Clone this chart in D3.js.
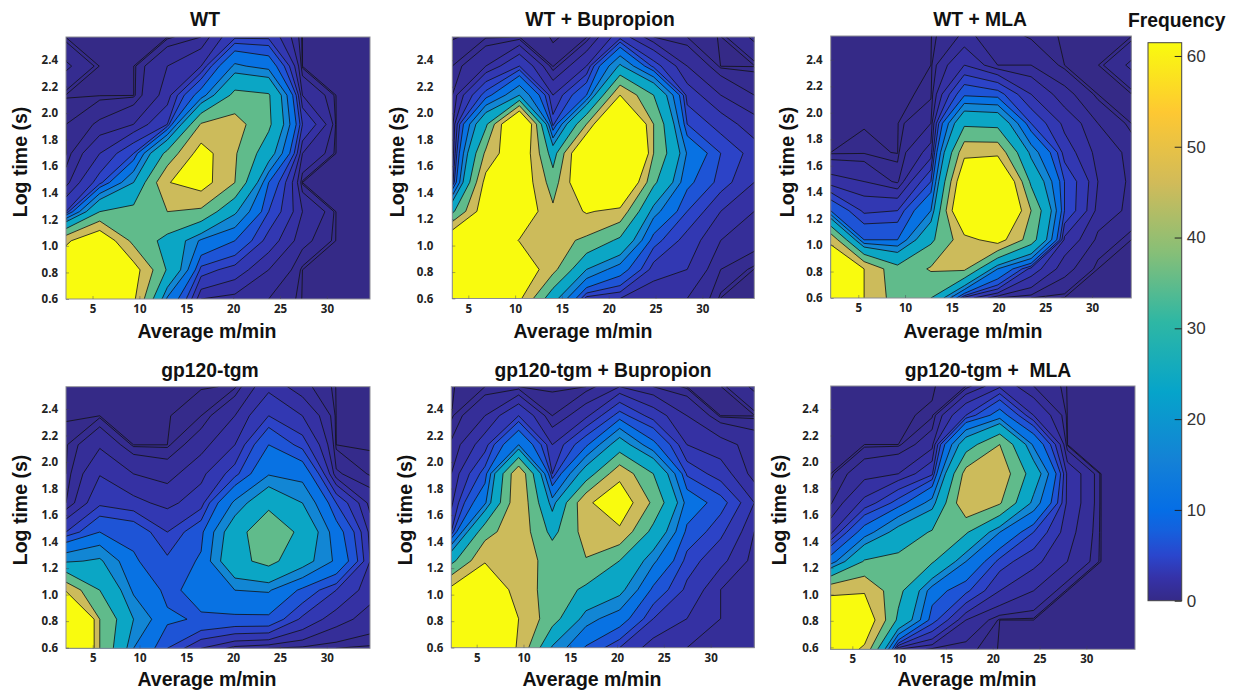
<!DOCTYPE html>
<html>
<head>
<meta charset="utf-8">
<script src="https://cdn.jsdelivr.net/npm/d3@7"></script>
<style>
  html, body { margin: 0; background: #fff; }
  svg { display: block; }
  text { font-family: "Liberation Sans", Arial, sans-serif; fill: #111; white-space: pre; }
  .title, .axis-label { font-weight: bold; }
  .title { font-size: 19.3px; }
  .axis-label { font-size: 19.5px; }
  .tick-axis text { font-family: "Open Sans", sans-serif; font-weight: bold; font-size: 11.5px; fill: #222; }
  .tick-axis .domain { display: none; }
  .tick-axis line { stroke: #445; stroke-opacity: 0.45; }
  .bar-axis text { font-size: 17px; fill: #333; }
  .bar-axis .domain { display: none; }
  .bar-axis line { stroke: #222; }
</style>
</head>
<body>
<svg id="chart" width="1238" height="691"></svg>
<script>
// Contour levels and the colour value each filled band takes on the colour bar
var levels = [0.01, 0.1, 0.5, 1.5, 3, 5, 7, 10, 15, 20, 30, 40, 50];
var bandValues = [0.3, 0.7, 1.3, 2.1, 3.2, 4.6, 6.5, 11, 16.5, 24, 35, 45.5, 61.4];
var baseValue = 0;

var xTickValues = [5, 10, 15, 20, 25, 30];
var yTickValues = [0.6, 0.8, 1.0, 1.2, 1.4, 1.6, 1.8, 2.0, 2.2, 2.4];
var barTickValues = [0, 10, 20, 30, 40, 50, 60];

var barValues = [0, 2.5, 5, 7.7, 10, 15.4, 23, 30.7, 38.4, 46, 53.8, 61.46];
var barColors = ["#352a87", "#3532a8", "#2a46cd", "#1560dd", "#056ee6", "#1481d6", "#06a4ca", "#2eb7a4", "#87bf77", "#d1bb59", "#fec832", "#f9fb0e"];

var titles = ["WT", "WT + Bupropion", "WT + MLA", "gp120-tgm", "gp120-tgm + Bupropion", "gp120-tgm +  MLA"];

// Frequency grids, 10 x 10, top row of the plot first
var gridWT = [
  [0, 0, 0, 0, 0.5, 4.5, 4.5, 0, 0, 0],
  [0.6, 0, 0, 1.5, 3, 16, 13, 0, 0, 0],
  [0, 0, 0, 2, 12, 33, 31, 1.5, 0, 0],
  [0.1, 0.6, 1.5, 5, 41, 44, 32, 5, 0, 0],
  [0.05, 3, 7, 33, 55, 41, 24, 1.5, 0, 0],
  [1, 6, 20, 49.5, 55, 40, 10, 0.01, 0, 0],
  [5, 30, 33, 40, 38, 21, 7, 1.5, 0, 0],
  [48, 61, 37, 27, 14, 10, 4, 0.7, 0, 0],
  [60, 62, 55, 29, 6, 4, 1.5, 0.01, 0, 0],
  [58, 62, 52, 14, 1.5, 1, 0.5, 0, 0, 0]
];
var gridWTBup = [
  [0, 0.05, 0.1, 0, 0.05, 4, 0.5, 0.1, 0, 0.6],
  [0.1, 1.5, 5, 0.05, 3, 21, 6, 1.5, 0, 0],
  [0.5, 8, 20, 3, 10, 50, 30, 4, 1.5, 0.5],
  [1, 28, 75, 6, 40, 85, 40, 7, 4, 2],
  [1.5, 42, 62, 25, 70, 105, 40, 14.5, 7, 4],
  [4, 54, 60, 35, 65, 72, 32, 11, 6, 3],
  [28, 58, 60, 42, 51, 47, 17, 7, 3, 1.5],
  [62, 62, 49.5, 44, 38, 28, 8, 4, 1.5, 0.8],
  [62, 62, 60, 43, 20, 12, 4, 3, 0.5, 0],
  [62, 62, 52, 23, 4, 3, 1.5, 1.5, 0, 0]
];
var gridWTMla = [
  [0, 0, 0, 0, 0.6, 0.3, 0.05, 0, 0, 0],
  [0, 0, 0, 0.01, 3, 0.5, 0.5, 0.01, 0, 0.6],
  [0, 0, 0, 0.02, 9, 8, 3, 0.7, 0.01, 0],
  [0, 0, 0, 0.5, 28, 27, 7, 2.5, 0.5, 0.01],
  [0.01, 0.05, 0, 2, 47, 47, 18, 4, 1, 0.3],
  [2, 1.5, 0.3, 7, 62, 72, 28, 7, 1.5, 0.3],
  [10, 4.5, 5, 15, 70, 75, 40, 7, 1, 0.3],
  [48, 10, 10, 28, 46, 55, 35, 2.5, 0.3, 0.01],
  [60, 50, 33, 41, 42, 15, 4, 0.7, 0.01, 0],
  [60, 50, 35, 30, 4, 0.5, 0.1, 0, 0, 0]
];
var gridTgm = [
  [0, 0, 0, 0, 0, 0.02, 2.5, 0.7, 0, 0],
  [0, 0.01, 0, 0, 0.1, 1.5, 5, 3, 0, 0],
  [0.05, 1.3, 0.01, 0.01, 1, 3, 10, 6, 0.01, 0],
  [0.1, 2.9, 1.5, 1, 2.5, 6, 14.5, 13, 0.6, 0.05],
  [0.5, 4.5, 3.5, 2.5, 4, 16, 27, 20, 7, 1],
  [5, 10, 9, 5, 9, 25, 39, 27, 12, 2.5],
  [19, 21, 10.5, 7.5, 10.5, 27, 33, 23, 14, 3],
  [48, 30, 14, 9, 11.5, 15, 15.5, 9, 5, 2],
  [100, 40, 20, 10.7, 9.5, 9, 9, 4.5, 2, 1],
  [100, 40, 15, 7, 3, 1, 0.5, 0.3, 0.1, 0.01]
];
var gridTgmBup = [
  [0, 0.1, 0.1, 0.01, 0.1, 1.5, 0.5, 0.01, 0, 0.6],
  [0.01, 1.5, 5, 0.5, 2.5, 8, 4, 1.5, 0.01, 0],
  [0.6, 4, 15, 3, 9, 24, 11, 3, 2, 1],
  [1.5, 8, 49, 5, 24, 47, 30, 6.5, 4, 0.9],
  [2.5, 14, 49, 17, 48, 58, 38, 13, 8, 3],
  [5, 36, 47, 27, 44, 48, 27, 9, 5.5, 1.5],
  [27, 49, 44, 37, 39.5, 30, 16, 6, 3.5, 1],
  [53, 62, 45, 36, 28, 22, 9, 4.5, 1.5, 0.7],
  [62, 62, 50, 34, 17, 12, 5, 3, 1.5, 1.1],
  [62, 62, 49, 19, 9.5, 5, 2, 1.5, 1.3, 1.2]
];
var gridTgmMla = [
  [0, 0, 0, 0, 0.1, 2.5, 0.5, 0, 0, 0],
  [0, 0, 0, 0.02, 5, 12, 3, 0, 0, 0],
  [0, 0.01, 0.01, 1, 25, 40, 14, 0.01, 0, 0],
  [0.01, 1, 1.5, 4.5, 44, 47, 25, 2.5, 0, 0],
  [0.4, 3.5, 8, 17, 49, 41, 18, 2.5, 0, 0],
  [2.5, 12, 23, 31, 31, 15, 7, 2, 0, 0],
  [12, 31, 33, 31, 15, 6, 3.5, 1.5, 0, 0],
  [48, 49, 33, 12, 7.5, 3, 1.5, 0.01, 0, 0],
  [60, 60, 28, 8, 1.5, 0.01, 0.01, 0, 0, 0],
  [60, 48, 1.5, 0.3, 0.15, 0, 0, 0, 0, 0]
];
var grids = [gridWT, gridWTBup, gridWTMla, gridTgm, gridTgmBup, gridTgmMla];

// Where each panel sits in the figure and what its axes span
var panels = [
  {l: 66, r: 370, t: 37, b: 299, xd: [2.17, 34.6], yd: [0.6, 2.573], pad: 8, titleX: 205, titleY: 19, xlabX: 207, xlabY: 331, ylabX: 20, ylabY: 162},
  {l: 452.3, r: 754.3, t: 37, b: 298.5, xd: [3.29, 35.55], yd: [0.6, 2.576], pad: 19, titleX: 600, titleY: 19, xlabX: 583, xlabY: 331, ylabX: 397, ylabY: 162},
  {l: 830.7, r: 1131.3, t: 36, b: 298, xd: [2.05, 34.2], yd: [0.6, 2.58], pad: 8, titleX: 980, titleY: 19, xlabX: 973, xlabY: 331, ylabX: 787, ylabY: 162},
  {l: 66, r: 370, t: 386.7, b: 648.3, xd: [2.15, 34.62], yd: [0.595, 2.568], pad: 8, titleX: 210, titleY: 370, xlabX: 207, xlabY: 679, ylabX: 20, ylabY: 510},
  {l: 451.3, r: 754.3, t: 386.7, b: 647.7, xd: [2.29, 34.66], yd: [0.6, 2.568], pad: 8, titleX: 603, titleY: 370, xlabX: 592, xlabY: 679, ylabX: 405, ylabY: 510},
  {l: 830.7, r: 1135, t: 386, b: 649.3, xd: [2.69, 35.2], yd: [0.585, 2.574], pad: 12, titleX: 988, titleY: 370, xlabX: 967, xlabY: 679, ylabX: 779, ylabY: 510}
];

var svg = d3.select("#chart");

var parula = d3.scaleLinear()
    .domain(barValues)
    .range(barColors)
    .interpolate(d3.interpolateRgb);

var contours = d3.contours().size([10, 10]);

panels.forEach(function(p, idx) {
    var x = d3.scaleLinear().domain(p.xd).range([p.l, p.r]);
    var y = d3.scaleLinear().domain(p.yd).range([p.b, p.t]);
    var xGrid = d3.scaleLinear().domain([0, 9]).range(p.xd);
    var yGrid = d3.scaleLinear().domain([0, 9]).range(p.yd);

    // d3.contours puts value i at i + 0.5
    var path = d3.geoPath(d3.geoTransform({
        point: function(px, py) {
            this.stream.point(x(xGrid(px - 0.5)), y(yGrid(py - 0.5)));
        }
    }));

    var values = grids[idx].slice().reverse().flat();

    var g = svg.append("g");
    g.append("clipPath").attr("id", "clip" + idx)
      .append("rect")
        .attr("x", p.l).attr("y", p.t)
        .attr("width", p.r - p.l).attr("height", p.b - p.t);

    var plot = g.append("g").attr("clip-path", "url(#clip" + idx + ")");
    plot.append("rect")
        .attr("x", p.l).attr("y", p.t)
        .attr("width", p.r - p.l).attr("height", p.b - p.t)
        .attr("fill", parula(baseValue));

    plot.selectAll("path")
        .data(levels.map(function(lv) { return contours.thresholds([lv])(values)[0]; }))
        .enter().append("path")
        .attr("d", path)
        .attr("fill", function(d, i) { return parula(bandValues[i]); })
        .attr("fill-rule", "evenodd")
        .attr("stroke", "#111")
        .attr("stroke-width", 0.8)
        .attr("stroke-linejoin", "round");

    g.append("rect")
        .attr("x", p.l).attr("y", p.t)
        .attr("width", p.r - p.l).attr("height", p.b - p.t)
        .attr("fill", "none")
        .attr("stroke", "#8c8c94");

    g.append("g")
        .attr("class", "tick-axis")
        .attr("transform", "translate(0," + p.b + ")")
        .call(d3.axisBottom(x).tickValues(xTickValues).tickFormat(d3.format("d")).tickSizeInner(-3).tickSizeOuter(0).tickPadding(6));

    g.append("g")
        .attr("class", "tick-axis")
        .attr("transform", "translate(" + p.l + ",0)")
        .call(d3.axisLeft(y).tickValues(yTickValues).tickFormat(d3.format(".1f")).tickSizeInner(-3).tickSizeOuter(0).tickPadding(p.pad));

    g.append("text").attr("class", "title")
        .attr("x", p.titleX).attr("y", p.titleY)
        .attr("text-anchor", "middle").attr("dominant-baseline", "central")
        .text(titles[idx]);
    g.append("text").attr("class", "axis-label")
        .attr("x", p.xlabX).attr("y", p.xlabY)
        .attr("text-anchor", "middle").attr("dominant-baseline", "central")
        .text("Average m/min");
    g.append("text").attr("class", "axis-label")
        .attr("transform", "translate(" + p.ylabX + "," + p.ylabY + ") rotate(-90)")
        .attr("text-anchor", "middle").attr("dominant-baseline", "central")
        .text("Log time (s)");
});

// colour bar
var barScale = d3.scaleLinear().domain([0, 61.46]).range([600.7, 42.7]);
var bar = svg.append("g");
var defs = svg.append("defs");
var grad = defs.append("linearGradient").attr("id", "barGrad")
    .attr("x1", 0).attr("y1", 1).attr("x2", 0).attr("y2", 0);
grad.selectAll("stop")
    .data(barValues)
    .enter().append("stop")
    .attr("offset", function(d) { return d / 61.46; })
    .attr("stop-color", function(d) { return parula(d); });

bar.append("rect")
    .attr("x", 1148).attr("y", barScale(61.46))
    .attr("width", 33.7).attr("height", barScale(0) - barScale(61.46))
    .attr("fill", "url(#barGrad)")
    .attr("stroke", "#444");

bar.append("g")
    .attr("class", "bar-axis")
    .attr("transform", "translate(1181.7,0)")
    .call(d3.axisRight(barScale).tickValues(barTickValues).tickSizeInner(-7).tickSizeOuter(0).tickPadding(5));

bar.append("text").attr("class", "title")
    .attr("x", 1176.7).attr("y", 20)
    .attr("text-anchor", "middle").attr("dominant-baseline", "central")
    .text("Frequency");
</script>
</body>
</html>
